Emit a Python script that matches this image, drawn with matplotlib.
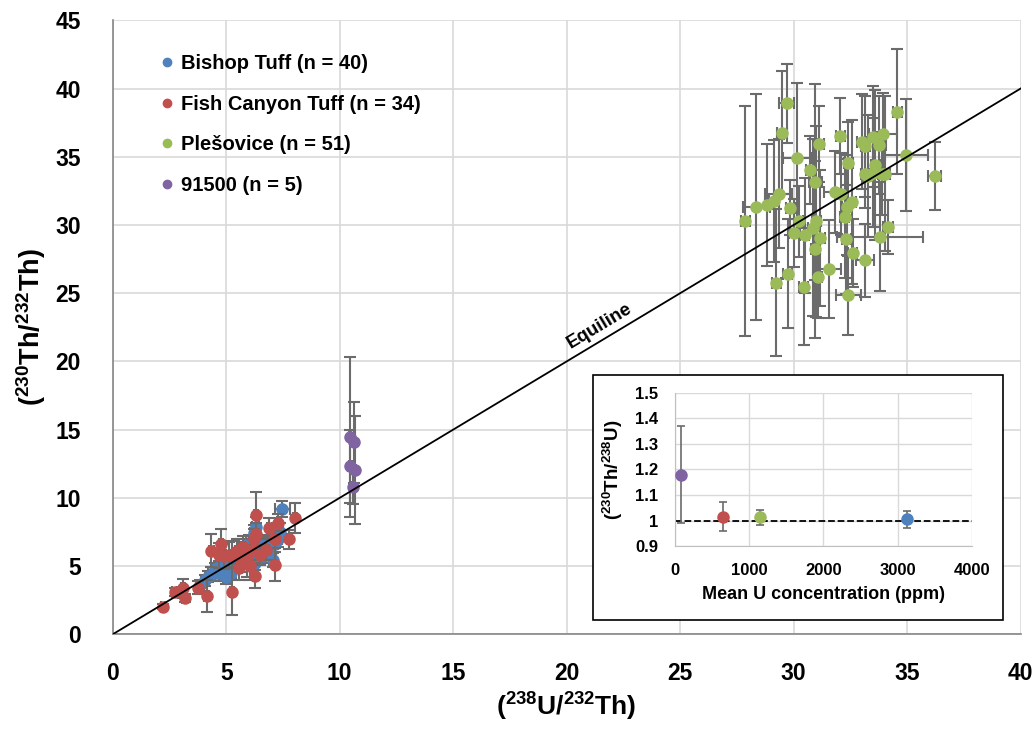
#plotting
import matplotlib
matplotlib.use('Agg')
import matplotlib.pyplot as plt
from matplotlib.patches import Rectangle
import numpy as np

plt.rcParams['font.family'] = ['Liberation Sans', 'DejaVu Sans']
plt.rcParams['font.weight'] = 'bold'
plt.rcParams['mathtext.fontset'] = 'custom'
plt.rcParams['mathtext.rm'] = 'Liberation Sans:bold'
plt.rcParams['mathtext.bf'] = 'Liberation Sans:bold'

# ---- data ----
bishop_x = [3.85, 4.05, 4.2, 4.35, 4.5, 4.6, 4.7, 4.85, 4.95, 5.0, 5.05, 5.1, 5.2, 5.3, 5.4,
            5.5, 5.55, 5.65, 5.75, 5.85, 5.95, 6.0, 6.05, 6.15, 6.25, 6.3, 6.35, 6.45, 6.55, 6.6,
            6.7, 6.8, 6.9, 7.0, 7.05, 7.15, 7.3, 7.36, 7.46, 6.2]
bishop_y = [3.6, 3.97, 4.2, 4.4, 4.75, 4.5, 4.9, 4.4, 4.3, 4.21, 4.7, 5.0, 4.5, 5.2, 5.6,
            5.8, 5.3, 5.9, 6.1, 5.7, 6.2, 6.67, 5.9, 6.4, 5.2, 7.89, 6.5, 6.1, 6.43, 5.7,
            6.7, 6.3, 6.06, 6.9, 5.45, 6.6, 7.0, 7.52, 9.17, 7.4]
bishop_yerr = [0.4, 0.4, 0.4, 0.5, 0.5, 0.4, 0.5, 0.5, 0.4, 0.5, 0.5, 0.5, 0.4, 0.6, 0.5,
               0.5, 0.6, 0.5, 0.6, 0.5, 0.5, 0.6, 0.5, 0.6, 0.5, 0.7, 0.6, 0.5, 0.6, 0.5,
               0.6, 0.6, 0.5, 0.6, 0.5, 0.6, 0.6, 0.6, 0.6, 0.6]
bishop_xerr = [0.15] * 38 + [0.33, 0.15]

fct_x = [2.22, 2.73, 3.10, 3.16, 3.76, 4.13, 4.34, 4.77, 4.69, 5.10, 5.25, 5.47, 5.73, 5.58,
         6.12, 6.30, 6.30, 5.90, 6.27, 6.49, 6.90, 7.29, 7.14, 7.14, 7.77, 8.02, 6.05, 5.90,
         5.25, 4.88, 6.2, 5.66, 6.77, 5.54]
fct_y = [2.02, 3.10, 3.37, 2.68, 3.42, 2.81, 6.13, 6.63, 5.79, 5.84, 3.13, 6.08, 6.38, 4.85,
         6.21, 8.72, 7.32, 5.22, 4.29, 5.79, 7.81, 8.18, 6.95, 5.10, 6.95, 8.55, 4.98, 5.71,
         5.84, 5.71, 6.95, 5.47, 6.21, 5.96]
fct_yerr = [0.2, 0.3, 0.7, 0.3, 0.5, 1.2, 1.2, 1.1, 0.9, 0.9, 1.75, 0.9, 0.8, 0.9,
            0.8, 1.7, 0.8, 1.0, 0.9, 0.7, 0.7, 0.6, 0.6, 1.2, 0.7, 1.1, 1.0, 0.8,
            1.0, 0.9, 0.8, 0.9, 0.8, 1.0]
fct_xerr = [0.1] * 34

ples_x = [27.87, 28.35, 28.82, 29.12, 29.34, 29.24, 29.49, 29.69, 29.75, 29.85, 30.0, 30.15,
          30.22, 30.49, 30.44, 30.74, 30.96, 31.0, 30.85, 30.96, 31.18, 31.07, 31.13, 31.57,
          31.84, 32.06, 32.10, 32.40, 32.35, 32.57, 32.25, 32.32, 32.60, 32.40, 33.16, 33.01,
          33.16, 33.16, 33.49, 33.60, 33.78, 33.94, 33.82, 34.16, 34.04, 33.9, 34.56, 34.96,
          36.21, 33.5, 33.3]
ples_y = [30.29, 31.32, 31.47, 31.76, 32.30, 25.77, 36.77, 38.92, 26.43, 31.27, 29.39, 34.89,
          30.29, 29.24, 25.48, 34.01, 33.15, 30.29, 29.80, 28.22, 29.07, 26.19, 35.92, 26.75,
          32.42, 36.53, 32.25, 34.52, 31.32, 31.71, 30.61, 28.95, 27.97, 24.84, 27.41, 36.11,
          35.79, 33.77, 36.48, 34.38, 35.84, 36.65, 29.14, 29.85, 33.77, 33.72, 38.31, 35.13,
          33.57, 33.84, 33.6]
ples_yerr = [8.4, 8.3, 4.5, 4.5, 4.0, 5.4, 4.5, 2.9, 4.0, 2.0, 2.5, 5.5,
             2.6, 4.2, 4.3, 2.5, 7.2, 7.0, 6.5, 6.5, 5.0, 3.0, 2.8, 3.6,
             3.0, 2.8, 3.0, 3.0, 3.5, 6.0, 4.5, 4.0, 2.5, 2.9, 2.7, 3.5,
             3.7, 2.5, 3.7, 5.5, 3.6, 3.0, 4.0, 2.0, 5.7, 3.0, 4.6, 4.1,
             2.5, 4.0, 4.5]
ples_xerr = [0.2, 0.6, 0.1, 0.2, 0.6, 0.2, 0.2, 0.35, 0.2, 0.2, 0.2, 0.6,
             0.2, 0.2, 0.2, 0.2, 0.3, 0.2, 0.2, 0.2, 0.2, 0.2, 0.2, 0.5,
             0.5, 0.2, 0.2, 0.2, 0.2, 0.2, 0.2, 0.2, 0.2, 0.55, 0.4, 0.2,
             0.2, 0.2, 0.2, 0.2, 0.3, 0.6, 1.9, 0.2, 0.2, 0.2, 0.2, 0.95,
             0.3, 0.2, 0.2]

p91_x = [10.44, 10.62, 10.47, 10.66, 10.59]
p91_y = [14.46, 14.07, 12.30, 12.06, 10.76]
p91_yerr = [5.9, 2.95, 2.7, 3.95, 1.2]
p91_xerr = [0.05, 0.05, 0.05, 0.05, 0.05]

# inset: mean U concentration vs (230Th/238U)
inset_u = [80, 650, 1150, 3130]
inset_ratio = [1.18, 1.015, 1.013, 1.005]
inset_err = [0.19, 0.057, 0.03, 0.033]

c_blue = '#4F81BD'
c_red = '#C0504D'
c_green = '#9BBB59'
c_purple = '#8064A2'
c_err = '#6B6B6B'

fig = plt.figure(figsize=(10.35, 7.29), dpi=100)
ax = fig.add_axes([0.109, 0.130, 0.877, 0.842])

series = [(bishop_x, bishop_y, bishop_xerr, bishop_yerr, c_blue, 'Bishop Tuff (n = 40)'),
          (fct_x, fct_y, fct_xerr, fct_yerr, c_red, 'Fish Canyon Tuff (n = 34)'),
          (ples_x, ples_y, ples_xerr, ples_yerr, c_green, 'Plešovice (n = 51)'),
          (p91_x, p91_y, p91_xerr, p91_yerr, c_purple, '91500 (n = 5)')]
z = 3
for sx, sy, sxe, sye, col, lab in series:
    ax.errorbar(sx, sy, xerr=sxe, yerr=sye, fmt='none', ecolor=c_err, elinewidth=1.5,
                capsize=4, capthick=1.5, zorder=z)
    ax.plot(sx, sy, 'o', color=col, markersize=8, label=lab, zorder=z + 1)
    z += 2

ax.plot([0, 40], [0, 40], color='black', lw=1.3, zorder=20)
ax.text(21.45, 22.6, 'Equiline', rotation=31, ha='center', va='center',
        fontsize=13.5, fontweight='bold', zorder=21)

ax.set_xlim(0, 40)
ax.set_ylim(0, 45)
ax.set_xticks(np.arange(0, 41, 5))
ax.set_yticks(np.arange(0, 46, 5))
ax.grid(color='#D9D9D9', lw=1.2, zorder=0)
ax.set_axisbelow(True)
ax.tick_params(axis='x', length=0, labelsize=16.5, pad=20)
ax.tick_params(axis='y', length=0, labelsize=16.5, pad=23)
for lbl in ax.get_xticklabels() + ax.get_yticklabels():
    lbl.set_fontweight('bold')
for s in ['top', 'right']:
    ax.spines[s].set_visible(False)
for s in ['left', 'bottom']:
    ax.spines[s].set_color('#868686')
    ax.spines[s].set_linewidth(1.2)
ax.set_xlabel(r'$\mathbf{(^{238}U/^{232}Th)}$', fontsize=19, labelpad=4)
ax.set_ylabel(r'$\mathbf{(^{230}Th/^{232}Th)}$', fontsize=19.5, labelpad=5)

leg = ax.legend(loc='upper left', bbox_to_anchor=(0.033, 0.975), frameon=False,
                fontsize=14.5, markerscale=0.75, handlelength=0.6, handletextpad=0.4,
                labelspacing=1.08)
for t in leg.get_texts():
    t.set_fontweight('bold')

# inset frame and axes
fig.add_artist(Rectangle((0.573, 0.150), 0.396, 0.336, transform=fig.transFigure,
                         facecolor='white', edgecolor='black', lw=1.2, zorder=5))
ax2 = fig.add_axes([0.652, 0.251, 0.287, 0.210], zorder=6)
ax2.plot([0, 4000], [1, 1], '--', color='black', lw=1.3, zorder=2)
for u, r, e, col in zip(inset_u, inset_ratio, inset_err, [c_purple, c_red, c_green, c_blue]):
    ax2.errorbar([u], [r], yerr=[e], fmt='o', color=col, markersize=8, ecolor=c_err,
                 elinewidth=1.2, capsize=3, capthick=1.2, zorder=3)
ax2.set_xlim(0, 4000)
ax2.set_ylim(0.9, 1.5)
ax2.set_xticks([0, 1000, 2000, 3000, 4000])
ax2.set_yticks([0.9, 1.0, 1.1, 1.2, 1.3, 1.4, 1.5])
ax2.set_yticklabels(['0.9', '1', '1.1', '1.2', '1.3', '1.4', '1.5'])
ax2.grid(color='#D9D9D9', lw=1.0, zorder=0)
ax2.set_axisbelow(True)
ax2.tick_params(length=0, labelsize=12, pad=12)
for lbl in ax2.get_xticklabels() + ax2.get_yticklabels():
    lbl.set_fontweight('bold')
for s in ['top', 'right']:
    ax2.spines[s].set_visible(False)
for s in ['left', 'bottom']:
    ax2.spines[s].set_color('#BFBFBF')
ax2.set_xlabel('Mean U concentration (ppm)', fontsize=13, fontweight='bold', labelpad=6)
ax2.set_ylabel(r'$\mathbf{(^{230}Th/^{238}U)}$', fontsize=13.5, labelpad=7)

plt.savefig('out.png', dpi=100)
